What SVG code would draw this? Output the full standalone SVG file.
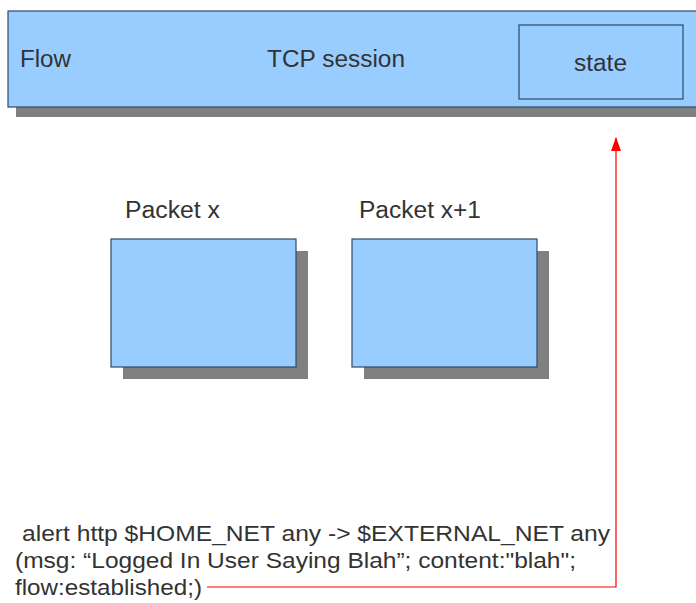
<svg xmlns="http://www.w3.org/2000/svg" width="696" height="603" viewBox="0 0 696 603">
<defs>
<style>
.box{fill:#99ccff;stroke:#2e4a66;stroke-width:1.2}
.sh{fill:#808080}
.t{font-family:"Liberation Sans",Arial,sans-serif;fill:#333333}
</style>
<marker id="ah" markerWidth="14" markerHeight="10" refX="13" refY="5" orient="auto" markerUnits="userSpaceOnUse" viewBox="0 0 14 10">
<path d="M0,0 L14,5 L0,10 Z" fill="#ff0000"/>
</marker>
</defs>
<rect width="696" height="603" fill="#ffffff"/>
<g id="flow">
<rect class="sh" x="16" y="19" width="690" height="98"/>
<rect class="box" x="8" y="11" width="700" height="96"/>
<text class="t" x="20" y="67" font-size="23" textLength="51" lengthAdjust="spacingAndGlyphs">Flow</text>
<text class="t" x="267" y="67" font-size="23" textLength="138" lengthAdjust="spacingAndGlyphs">TCP session</text>
</g>
<g id="state">
<rect x="519" y="25" width="164" height="74" fill="none" stroke="#2e4a66" stroke-width="1.2"/>
<text class="t" x="574" y="71" font-size="23" textLength="53" lengthAdjust="spacingAndGlyphs">state</text>
</g>
<g id="packet-x">
<rect class="sh" x="123" y="251" width="185" height="128"/>
<rect class="box" x="111" y="239" width="185" height="128"/>
<text class="t" x="125" y="218" font-size="23" textLength="95" lengthAdjust="spacingAndGlyphs">Packet x</text>
</g>
<g id="packet-x1">
<rect class="sh" x="364" y="251" width="185" height="128"/>
<rect class="box" x="352" y="239" width="185" height="128"/>
<text class="t" x="359" y="218" font-size="23" textLength="122" lengthAdjust="spacingAndGlyphs">Packet x+1</text>
</g>
<g id="rule">
<text class="t" font-size="22">
<tspan x="22" y="541" textLength="588" lengthAdjust="spacingAndGlyphs">alert http $HOME_NET any -&gt; $EXTERNAL_NET any</tspan>
<tspan x="15" y="568" textLength="561" lengthAdjust="spacingAndGlyphs">(msg: “Logged In User Saying Blah”; content:"blah";</tspan>
<tspan x="15" y="595" textLength="187" lengthAdjust="spacingAndGlyphs">flow:established;)</tspan>
</text>
</g>
<g id="connectors">
<path d="M207,587 H616 V138" fill="none" stroke="#ff0000" stroke-width="1.2" marker-end="url(#ah)"/>
</g>
</svg>
